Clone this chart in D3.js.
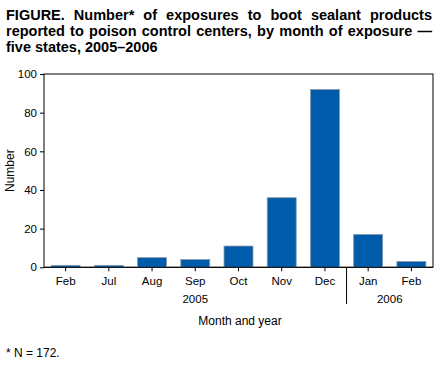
<!DOCTYPE html>
<html><head><meta charset="utf-8">
<script src="https://cdn.jsdelivr.net/npm/d3@7"></script>
<style>body{margin:0;background:#fff}svg{display:block;font-family:"Liberation Sans",Arial,sans-serif}</style>
</head><body>
<script>
const months = ["Feb","Jul","Aug","Sep","Oct","Nov","Dec","Jan","Feb"];
const years = ["2005","2005","2005","2005","2005","2005","2005","2006","2006"];
const values = [1,1,5,4,11,36,92,17,3];
const yTicks = [0,20,40,60,80,100];
const titleLines = ["FIGURE. Number* of exposures to boot sealant products","reported to poison control centers, by month of exposure \u2014","five states, 2005\u20132006"];
const footnote = "* N = 172.";

const W=448,H=365;
const svg=d3.select("body").append("svg").attr("width",W).attr("height",H);
const m={l:44,r:433,t:74,b:267.3};
const keys=months.map((d,i)=>i);
const x=d3.scaleBand().domain(keys).range([m.l,m.r]).paddingInner(0.33).paddingOuter(0.165);
const y=d3.scaleLinear().domain([0,100]).range([m.b,m.t]);

// title
const tg=svg.append("g");
titleLines.forEach((t,i)=>{
  const el=tg.append("text").attr("x",6).attr("y",20+i*16).attr("font-size",14.5).attr("font-weight","bold").attr("fill","#000").text(t);
  if(i<2){
    const w=el.node().getComputedTextLength();
    const target=426;
    const spaces=(t.match(/ /g)||[]).length;
    el.attr("word-spacing",(target-w)/spaces);
  }
});

// box
svg.append("rect").attr("x",m.l).attr("y",m.t).attr("width",m.r-m.l).attr("height",m.b-m.t).attr("fill","none").attr("stroke","#000").attr("stroke-width",1);

// bars
svg.append("g").selectAll("rect").data(values).join("rect")
 .attr("x",(d,i)=>x(i)).attr("width",x.bandwidth())
 .attr("y",d=>y(d)).attr("height",d=>y(0)-y(d))
 .attr("fill","#005BAA").attr("stroke","#8c99a8").attr("stroke-width",0.8);

// y axis
const ya=svg.append("g").attr("transform",`translate(${m.l},0)`)
 .call(d3.axisLeft(y).tickValues(yTicks).tickSize(4).tickPadding(3));
ya.select(".domain").remove();
ya.selectAll("text").attr("font-size",11.5).attr("fill","#000").style("font-family","'Liberation Sans',Arial,sans-serif");
ya.selectAll("line").attr("stroke","#000");

// x axis
const xa=svg.append("g").attr("transform",`translate(0,${m.b})`)
 .call(d3.axisBottom(x).tickFormat(i=>months[i]).tickSize(4).tickPadding(6));
xa.select(".domain").remove();
xa.selectAll("text").attr("font-size",11.5).attr("fill","#000").style("font-family","'Liberation Sans',Arial,sans-serif");
xa.selectAll("line").attr("stroke","#000");

// baseline
svg.append("line").attr("x1",m.l).attr("x2",m.r).attr("y1",m.b).attr("y2",m.b).attr("stroke","#000");

// year separator and labels
const sepX=(x(6)+x.bandwidth()+x(7))/2;
svg.append("line").attr("x1",sepX).attr("x2",sepX).attr("y1",m.b).attr("y2",304).attr("stroke","#000");
const yrs=Array.from(new Set(years));
yrs.forEach(yr=>{
  const idx=keys.filter(i=>years[i]===yr);
  const cx=(x(idx[0])+x(idx[idx.length-1])+x.bandwidth())/2;
  svg.append("text").attr("x",cx).attr("y",303).attr("text-anchor","middle").attr("font-size",11.5).text(yr);
});

svg.append("text").attr("x",240).attr("y",325).attr("text-anchor","middle").attr("font-size",12).text("Month and year");
svg.append("text").attr("transform",`translate(14,${(m.t+m.b)/2}) rotate(-90)`).attr("text-anchor","middle").attr("font-size",12).text("Number");
svg.append("text").attr("x",6).attr("y",357).attr("font-size",12).text(footnote);
</script>
</body></html>
